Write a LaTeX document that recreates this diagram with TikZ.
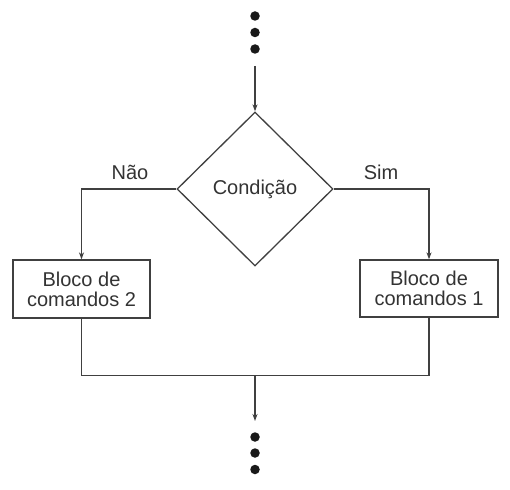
\documentclass[tikz,border=0pt]{standalone}
\usepackage{fontspec}
\setmainfont{Liberation Sans}
\usetikzlibrary{shapes.geometric,arrows.meta}
\begin{document}
\begin{tikzpicture}[x=1pt,y=-1pt,
  line/.style={draw=black!75, line width=1.3pt},
  arr/.style={line, -{Stealth[length=7pt,width=5pt]}},
  dotnode/.style={circle, fill=black!90, inner sep=0pt, minimum size=9.5pt},
  block/.style={rectangle, draw=black!75, line width=1.3pt, inner sep=0pt, align=center,
    font=\fontsize{20}{20}\selectfont, text=black!80},
  cond/.style={diamond, draw=black!75, line width=1.3pt, inner sep=0pt, minimum width=156pt,
    minimum height=154pt, font=\fontsize{20}{20}\selectfont, text=black!80},
  lbl/.style={font=\fontsize{20}{20}\selectfont, text=black!80, anchor=base, inner sep=0pt}
]
\useasboundingbox (0,0) rectangle (510,489);
% top dots
\node[dotnode] (t1) at (255,16) {};
\node[dotnode] (t2) at (255,32.5) {};
\node[dotnode] (t3) at (255,49) {};
\coordinate (tin) at (255,66);
% diamond
\node[cond] (c) at (255,189) {Condição};
% blocks
\node[block, minimum width=137pt, minimum height=58pt] (b2) at (81.5,289) {Bloco de\\comandos 2};
\node[block, minimum width=138pt, minimum height=57pt] (b1) at (429,288.5) {Bloco de\\comandos 1};
% labels
\node[lbl] (nao) at (130,179) {Não};
\node[lbl] (sim) at (381,179) {Sim};
% merge
\coordinate (ml) at (81.5,375.5);
\coordinate (mr) at (429,375.5);
\coordinate (mc) at (255,375.5);
\coordinate (mout) at (255,421);
% bottom dots
\node[dotnode] (d1) at (255,437) {};
\node[dotnode] (d2) at (255,453) {};
\node[dotnode] (d3) at (255,469.5) {};
% connectors
\draw[arr] (tin) -- (c.north);
\draw[arr] (c.west) -| (b2.north);
\draw[arr] (c.east) -| (b1.north);
\draw[line] (b2.south) |- (ml) -- (mr) -- (b1.south);
\draw[arr] (mc) -- (mout);
\end{tikzpicture}
\end{document}
